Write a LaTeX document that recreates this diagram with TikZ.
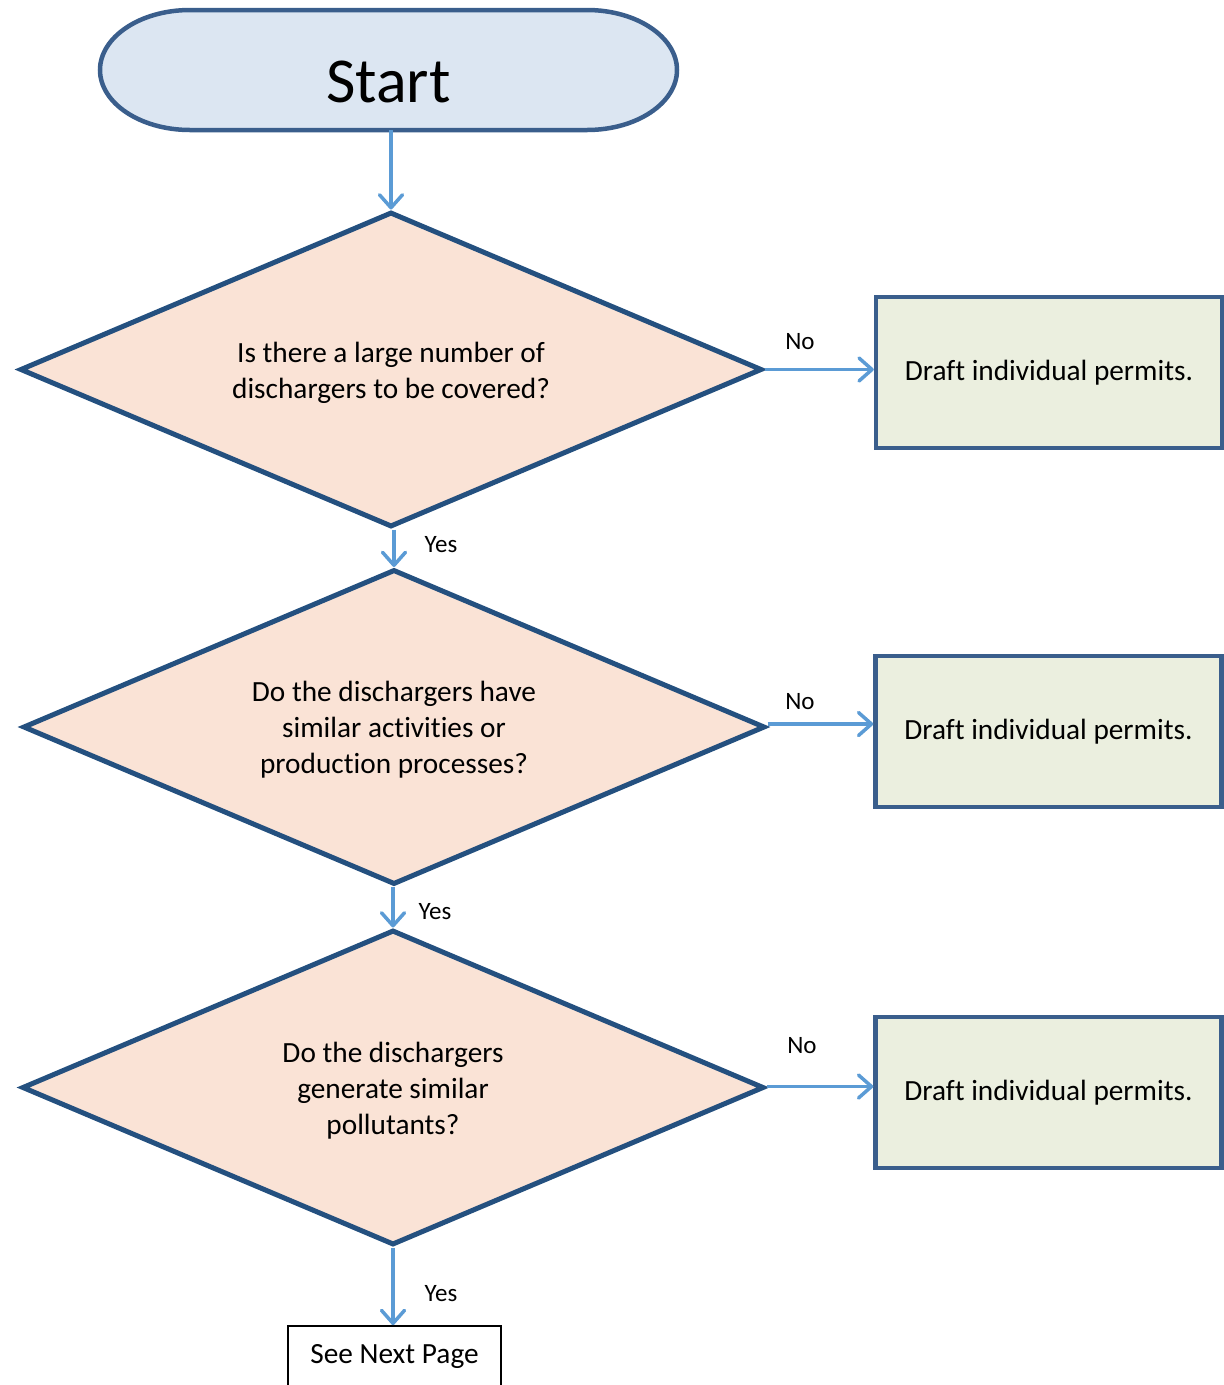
\documentclass[tikz,border=0pt]{standalone}
\usepackage{fontspec}
\setmainfont{Carlito}[Ligatures={NoCommon}]
\usetikzlibrary{shapes.geometric,arrows.meta}
\definecolor{arrowblue}{HTML}{5B9BD5}
\definecolor{dborder}{HTML}{24507F}
\definecolor{dfill}{HTML}{FAE3D6}
\definecolor{bfill}{HTML}{EBEFDF}
\definecolor{bborder}{HTML}{3A5E8C}
\definecolor{sfill}{HTML}{DCE6F2}
\begin{document}
\begin{tikzpicture}[x=1pt,y=-1pt,
  decision/.style={diamond, draw=dborder, fill=dfill, line width=5pt, inner sep=0pt,
    minimum width=742pt, minimum height=315pt},
  dtext/.style={align=center, inner sep=0pt, yshift=-3pt, font=\fontsize{29.3}{36}\selectfont},
  action/.style={rectangle, draw=bborder, fill=bfill, line width=4.5pt,
    minimum width=346pt, minimum height=151pt, font=\fontsize{29.3}{36}\selectfont},
  flow/.style={draw=arrowblue, line width=3.5pt,
    -{Straight Barb[length=13pt,width=23pt,line cap=round,line join=round]}},
  lbl/.style={font=\fontsize{25}{28}\selectfont, inner sep=0pt}
]
\useasboundingbox (0,0) rectangle (1224,1385);
\clip (0,0) rectangle (1224,1385);

% Start terminal
\draw[draw=bborder, fill=sfill, line width=4.5pt]
  (190,10) -- (587,10) .. controls (636.7,10) and (677,37) .. (677,70)
  .. controls (677,103) and (636.7,130) .. (587,130) -- (190,130)
  .. controls (140.3,130) and (100,103) .. (100,70)
  .. controls (100,37) and (140.3,10) .. (190,10) -- cycle;
\node[minimum width=577pt, minimum height=120pt, inner sep=0pt,
  text height=65pt, text depth=0pt, font=\fontsize{64}{72}\selectfont]
  (start) at (388.5,70) {Start};

% Decisions
\node[decision, label={[dtext]center:Is there a large number of\\dischargers to be covered?}] (d1) at (391,369.5) {};
\node[decision, label={[dtext]center:Do the dischargers have\\similar activities or\\production processes?}] (d2) at (394,727) {};
\node[decision, label={[dtext]center:Do the dischargers\\generate similar\\pollutants?}] (d3) at (393,1087.5) {};

% Actions
\node[action] (b1) at (1049,372.5) {Draft individual permits.};
\node[action] (b2) at (1048.5,731.5) {Draft individual permits.};
\node[action] (b3) at (1048.5,1092.5) {Draft individual permits.};

% Next page
\node[draw=black, line width=1.8pt, minimum width=213pt, minimum height=60pt,
  font=\fontsize{29.3}{36}\selectfont] (next) at (394.5,1356) {See Next Page};

% Connectors
\draw[flow] (d1.north |- start.south) -- (d1.north);
\draw[flow] (d2.north |- d1.south) -- (d2.north);
\draw[flow] (d3.north |- d2.south) -- (d3.north);
\draw[flow] (d3.south) -- (d3.south |- next.north);
\draw[flow] (d1.east) -- (d1.east -| b1.west);
\draw[flow] ([yshift=3pt]d2.east) -- ([yshift=3pt]d2.east -| b2.west);
\draw[flow] ([yshift=1pt]d3.east) -- ([yshift=1pt]d3.east -| b3.west);

% Labels
\node[lbl] (l1) at (800,342) {No};
\node[lbl] (l2) at (800,702) {No};
\node[lbl] (l3) at (802,1046) {No};
\node[lbl] (y1) at (441,545) {Yes};
\node[lbl] (y2) at (435,912) {Yes};
\node[lbl] (y3) at (441,1294) {Yes};
\end{tikzpicture}
\end{document}
